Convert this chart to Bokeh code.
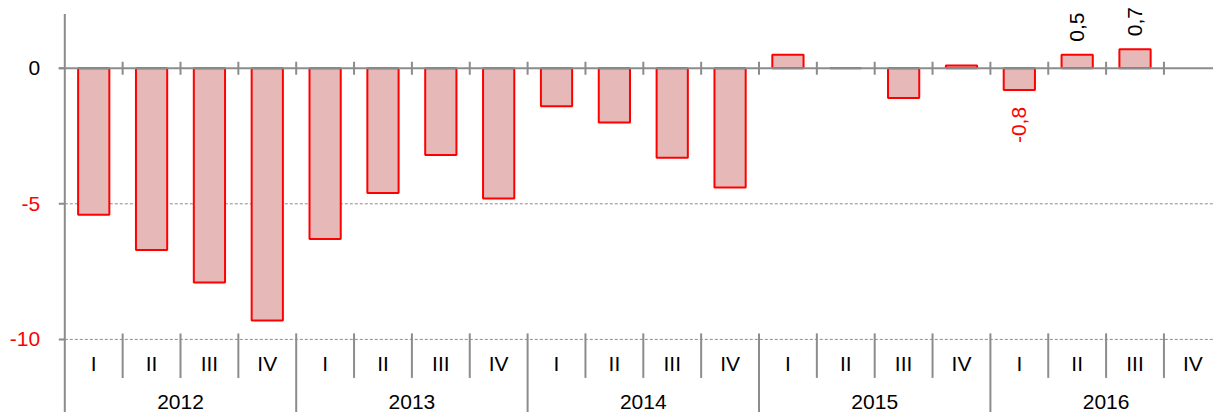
import math
from bokeh.plotting import figure
from bokeh.models import ColumnDataSource, Range1d
from bokeh.embed import file_html
from bokeh.resources import INLINE
from bokeh.core.properties import value

# ---------------- data ----------------
years = ["2012", "2013", "2014", "2015", "2016"]
quarters = ["I", "II", "III", "IV"]
values = [-5.4, -6.7, -7.9, -9.3,
          -6.3, -4.6, -3.2, -4.8,
          -1.4, -2.0, -3.3, -4.4,
          0.5, 0.0, -1.1, 0.1,
          -0.8, 0.5, 0.7]
labelled = [16, 17, 18]
y_ticks = [0, -5, -10]
y_top = 2.0

# ---------------- geometry ----------------
W, H = 1213, 412
x0_px = 64.3      # canvas px of first category boundary
cat_px = 57.85    # px per category
zero_px = 67.7    # canvas px of y = 0
ppu = 27.12       # px per unit on y

def dx(px):
    return px / cat_px

def dy(px):
    return px / ppu

x_start = -x0_px / cat_px
x_end = (W - x0_px) / cat_px
y_end = zero_px / ppu
y_start = -(H - zero_px) / ppu

n_cat = len(years) * len(quarters)
y_min_axis = min(y_ticks)

GRAY = "#8c8c8c"
FONT = value("Liberation Sans")
FS = "21px"

p = figure(width=W, height=H, x_range=Range1d(x_start, x_end),
           y_range=Range1d(y_start, y_end), output_backend="svg",
           toolbar_location=None, x_axis_location=None, y_axis_location=None,
           min_border=0)
p.outline_line_color = None
p.background_fill_color = "white"
p.border_fill_color = "white"
p.xgrid.visible = False
p.ygrid.visible = False
for g in p.grid:
    g.visible = False

# gridlines (dashed) at non-zero ticks
grid_y = [t for t in y_ticks if t != 0]
p.segment(x0=[0] * len(grid_y), y0=grid_y, x1=[x_end] * len(grid_y), y1=grid_y,
          line_color=GRAY, line_width=1, line_dash="3 2")

# bars
centers = [i + 0.5 for i in range(len(values))]
src = ColumnDataSource(dict(x=centers, top=values))
p.vbar(x="x", top="top", bottom=0, width=0.54, source=src,
       fill_color="#E6B8B7", line_color="#FF0000", line_width=2)

# y axis line
p.segment(x0=[0], y0=[y_top], x1=[0], y1=[y_start], line_color=GRAY, line_width=2)
# y ticks
p.segment(x0=[-dx(6)] * len(y_ticks), y0=y_ticks, x1=[0] * len(y_ticks), y1=y_ticks,
          line_color=GRAY, line_width=2)
# zero line
p.segment(x0=[-dx(6)], y0=[0], x1=[x_end], y1=[0], line_color=GRAY, line_width=2)
# ticks on zero line
tk = list(range(1, n_cat + 1))
p.segment(x0=tk, y0=[dy(6.5)] * len(tk), x1=tk, y1=[-dy(6.5)] * len(tk),
          line_color=GRAY, line_width=2)

# category separators at the bottom
q_sep = [i for i in range(1, n_cat + 1) if i % len(quarters) != 0]
y_sep = [i for i in range(len(quarters), n_cat + 1, len(quarters))]
p.segment(x0=q_sep, y0=[y_min_axis + dy(6)] * len(q_sep), x1=q_sep,
          y1=[y_min_axis - dy(38.5)] * len(q_sep), line_color=GRAY, line_width=2)
p.segment(x0=y_sep, y0=[y_min_axis + dy(6)] * len(y_sep), x1=y_sep,
          y1=[y_start] * len(y_sep), line_color=GRAY, line_width=2)

# quarter labels
q_x = [i + 0.5 for i in range(n_cat)]
q_t = [quarters[i % len(quarters)] for i in range(n_cat)]
p.text(x=q_x, y=[y_min_axis - dy(24.4)] * n_cat, text=q_t, text_align="center",
       text_baseline="middle", text_font=FONT, text_font_size=FS, text_color="black")

# year labels
yr_x = [len(quarters) * (k + 0.5) for k in range(len(years))]
p.text(x=yr_x, y=[y_min_axis - dy(62.8)] * len(years), text=years, text_align="center",
       text_baseline="middle", text_font=FONT, text_font_size=FS, text_color="black")

# y tick labels
yl_col = ["black" if t == 0 else "#FF0000" for t in y_ticks]
p.text(x=[-dx(24.7)] * len(y_ticks), y=y_ticks, text=[str(t) for t in y_ticks],
       text_align="right", text_baseline="middle", text_font=FONT, text_font_size=FS,
       text_color=yl_col)

# data labels (rotated)
pos = [i for i in labelled if values[i] >= 0]
neg = [i for i in labelled if values[i] < 0]
fmt = lambda v: f"{v:.1f}".replace(".", ",")
p.text(x=[centers[i] for i in pos], y=[values[i] + dy(13) for i in pos],
       text=[fmt(values[i]) for i in pos], angle=math.pi / 2, text_align="left",
       text_baseline="middle", text_font=FONT, text_font_size=FS, text_color="black")
p.text(x=[centers[i] for i in neg], y=[values[i] - dy(17) for i in neg],
       text=[fmt(values[i]) for i in neg], angle=math.pi / 2, text_align="right",
       text_baseline="middle", text_font=FONT, text_font_size=FS, text_color="#FF0000")

open("out.html", "w").write(file_html(p, INLINE))
